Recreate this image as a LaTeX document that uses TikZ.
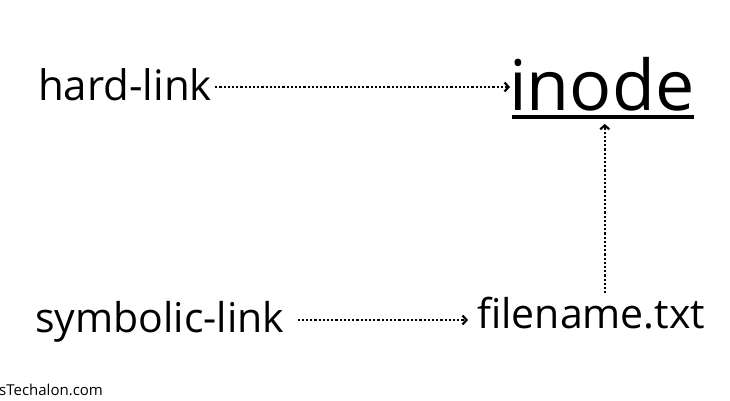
\documentclass[tikz,border=0pt]{standalone}
\usepackage{fontspec}
\setmainfont{Open Sans}
\usetikzlibrary{arrows.meta}

\begin{document}
\begin{tikzpicture}[x=1pt, y=1pt]
    % Define styles
    \tikzstyle{label} = [inner sep=0pt, anchor=base west, font=\fontsize{41}{48}\selectfont]
    \tikzstyle{link} = [line width=2.2pt, dash pattern=on 2.2pt off 2pt, -{Straight Barb[length=4pt, width=9pt]}]

    \useasboundingbox (0,0) rectangle (730,400);

    % Nodes
    \node (hard) [label, font=\fontsize{42}{50}\selectfont] at (38,300) {hard-link};
    \node (inode) [label, font=\fontsize{70}{80}\selectfont] at (509,290) {inode};
    \node (symb) [label] at (35,68) {symbolic-link};
    \node (file) [label] at (477,72) {filename.txt};
    \node (mark) [inner sep=0pt, anchor=base west, font=\fontsize{15}{18}\selectfont] at (-1,5) {sTechalon.com};

    % Underline
    \draw [line width=3.5pt] ([xshift=3pt, yshift=-7pt]inode.base west) -- ([xshift=-1pt, yshift=-7pt]inode.base east);

    % Arrows
    \draw [link] ([xshift=3pt, yshift=13pt]hard.base east) -- ([xshift=1pt, yshift=13pt]hard.base east -| inode.west);
    \draw [link] ([xshift=13pt, yshift=12pt]symb.base east) -- ([xshift=-9pt, yshift=12pt]symb.base east -| file.west);
    \draw [link] ([xshift=3pt, yshift=3pt]inode.south |- file.north) -- ([xshift=3pt, yshift=-13pt]inode.south);
\end{tikzpicture}
\end{document}
